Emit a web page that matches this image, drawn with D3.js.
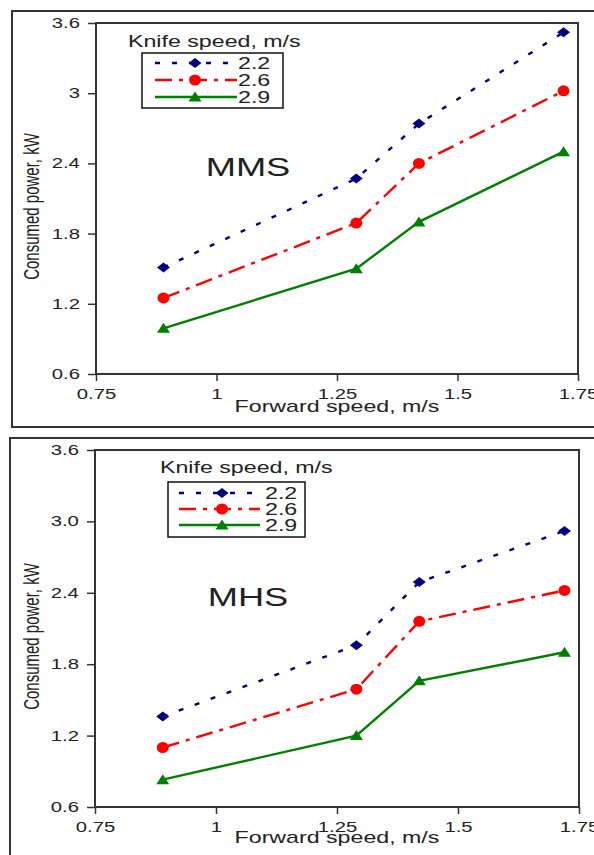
<!DOCTYPE html>
<html>
<head>
<meta charset="utf-8">
<script src="https://cdn.jsdelivr.net/npm/d3@7"></script>
<style>
  body { margin: 0; background: #fff; }
  svg { display: block; }
  text { font-family: "Liberation Sans", Arial, sans-serif; fill: #222; }
</style>
</head>
<body>
<script>
// forward speed (m/s) on the x axis, same for both panels
var forwardSpeed = [0.89, 1.29, 1.42, 1.72];
var knifeSpeeds = ["2.2", "2.6", "2.9"];

// consumed power, kW  (MMS panel)
var mms22 = [1.51, 2.27, 2.74, 3.52];
var mms26 = [1.25, 1.89, 2.40, 3.02];
var mms29 = [0.99, 1.50, 1.90, 2.50];

// consumed power, kW  (MHS panel)
var mhs22 = [1.36, 1.96, 2.49, 2.92];
var mhs26 = [1.10, 1.59, 2.16, 2.42];
var mhs29 = [0.83, 1.20, 1.66, 1.90];

var xTicks = [0.75, 1, 1.25, 1.5, 1.75];
var yTicks = [0.6, 1.2, 1.8, 2.4, 3.0, 3.6];
var yTickLabelsMMS = ["0.6", "1.2", "1.8", "2.4", "3", "3.6"];
var yTickLabelsMHS = ["0.6", "1.2", "1.8", "2.4", "3.0", "3.6"];

var colors = ["#000080", "#ff0000", "#008000"];
var dashes = ["5,12", "17,7,4,7", null];
var SX = 1.45;   // the source picture is stretched sideways

var svg = d3.select("body").append("svg")
    .attr("width", 594)
    .attr("height", 855);

function marker(g, kind, cx, cy, color) {
  var p;
  if (kind == 0) {
    p = [[cx - 6.5, cy], [cx, cy - 5], [cx + 6.5, cy], [cx, cy + 5]];
    g.append("polygon").attr("points", p.join(" ")).attr("fill", color);
  } else if (kind == 1) {
    g.append("ellipse").attr("cx", cx).attr("cy", cy)
        .attr("rx", 6).attr("ry", 5.5).attr("fill", color);
  } else {
    p = [[cx - 6.5, cy + 4.5], [cx, cy - 5.5], [cx + 6.5, cy + 4.5]];
    g.append("polygon").attr("points", p.join(" ")).attr("fill", color);
  }
}

function drawPanel(cfg) {
  // outer frame running off the picture
  svg.append("rect")
      .attr("x", cfg.frame[0]).attr("y", cfg.frame[1])
      .attr("width", 640).attr("height", cfg.frame[2])
      .attr("fill", "none").attr("stroke", "#333").attr("stroke-width", 2);

  var x = d3.scaleLinear().domain([0.75, 1.75]).range([cfg.left, cfg.right]);
  var y = d3.scaleLinear().domain([0.6, 3.6]).range([cfg.bottom, cfg.top]);

  var yAxis = svg.append("g")
      .attr("transform", "translate(" + cfg.left + ",0)")
      .call(d3.axisLeft(y).tickValues(yTicks).tickSize(8)
        .tickFormat(function(d, i) { return cfg.yLabels[i]; }));
  yAxis.selectAll(".tick text")
      .attr("x", -16)
      .style("font-size", "14px")
      .style("transform-box", "fill-box")
      .style("transform-origin", "right center")
      .style("transform", "scaleX(" + SX + ")");

  var xAxis = svg.append("g")
      .attr("transform", "translate(0," + cfg.bottom + ")")
      .call(d3.axisBottom(x).tickValues(xTicks).tickSize(7)
        .tickFormat(function(d) { return String(d); }));
  xAxis.selectAll(".tick text")
      .attr("y", 25).attr("dy", 0)
      .style("font-size", "14px")
      .style("transform-box", "fill-box")
      .style("transform-origin", "center")
      .style("transform", "scaleX(" + SX + ")");

  svg.selectAll(".domain").remove();
  svg.selectAll(".tick line").attr("stroke", "#333").attr("stroke-width", 1.5);

  svg.append("rect")
      .attr("x", cfg.left).attr("y", cfg.top)
      .attr("width", cfg.right - cfg.left).attr("height", cfg.bottom - cfg.top)
      .attr("fill", "none").attr("stroke", "#333").attr("stroke-width", 2);

  // axis titles
  svg.append("text")
      .attr("text-anchor", "middle")
      .attr("transform", "translate(" + 337 + "," + (cfg.bottom + cfg.xTitleDy) + ") scale(" + SX + ",1)")
      .style("font-size", "16px")
      .text("Forward speed, m/s");
  svg.append("text")
      .attr("text-anchor", "middle")
      .attr("transform", "translate(39," + ((cfg.top + cfg.bottom) / 2 + 8) + ") rotate(-90) scale(1,1.45)")
      .style("font-size", "15px")
      .text("Consumed power, kW");

  // panel name
  svg.append("text")
      .attr("text-anchor", "middle")
      .attr("transform", "translate(248," + cfg.nameY + ") scale(" + SX + ",1)")
      .style("font-size", "25px")
      .text(cfg.name);

  var line = d3.line()
      .x(function(d, i) { return x(forwardSpeed[i]); })
      .y(function(d) { return y(d); });

  cfg.series.forEach(function(s, k) {
    svg.append("path")
        .datum(s)
        .attr("d", line)
        .attr("fill", "none")
        .attr("stroke", colors[k])
        .attr("stroke-width", 2.4)
        .attr("stroke-dasharray", dashes[k]);
  });
  cfg.series.forEach(function(s, k) {
    var g = svg.append("g");
    s.forEach(function(d, i) { marker(g, k, x(forwardSpeed[i]), y(d), colors[k]); });
  });

  // legend
  var lg = cfg.legend;
  svg.append("text")
      .attr("transform", "translate(" + lg.titleX + "," + lg.titleY + ") scale(" + SX + ",1)")
      .style("font-size", "16px")
      .text("Knife speed, m/s");
  svg.append("rect")
      .attr("x", lg.box[0]).attr("y", lg.box[1])
      .attr("width", lg.box[2]).attr("height", lg.box[3])
      .attr("fill", "#fff").attr("stroke", "#111").attr("stroke-width", 1.5);
  knifeSpeeds.forEach(function(ks, k) {
    var ry = lg.rows[k];
    svg.append("line")
        .attr("x1", lg.lineX[0]).attr("x2", lg.lineX[1])
        .attr("y1", ry).attr("y2", ry)
        .attr("stroke", colors[k]).attr("stroke-width", 2.4)
        .attr("stroke-dasharray", dashes[k]);
    marker(svg, k, lg.markX, ry, colors[k]);
    svg.append("text")
        .attr("transform", "translate(" + lg.textX + "," + (ry + 6) + ") scale(" + SX + ",1)")
        .style("font-size", "16px")
        .text(ks);
  });
}

drawPanel({
  name: "MMS", nameY: 176,
  frame: [12, 11, 416],
  left: 96, right: 578, top: 23, bottom: 374,
  xTitleDy: 38,
  yLabels: yTickLabelsMMS,
  series: [mms22, mms26, mms29],
  legend: { titleX: 128, titleY: 47, box: [142, 53, 141, 55],
            rows: [63, 80, 97], lineX: [155, 237], markX: 195, textX: 238 }
});

drawPanel({
  name: "MHS", nameY: 606,
  frame: [10, 438, 440],
  left: 95, right: 579, top: 450, bottom: 807,
  xTitleDy: 36,
  yLabels: yTickLabelsMHS,
  series: [mhs22, mhs26, mhs29],
  legend: { titleX: 160, titleY: 473, box: [168, 482, 137, 55],
            rows: [493, 509, 525], lineX: [179, 260], markX: 222, textX: 265 }
});
</script>
</body>
</html>
